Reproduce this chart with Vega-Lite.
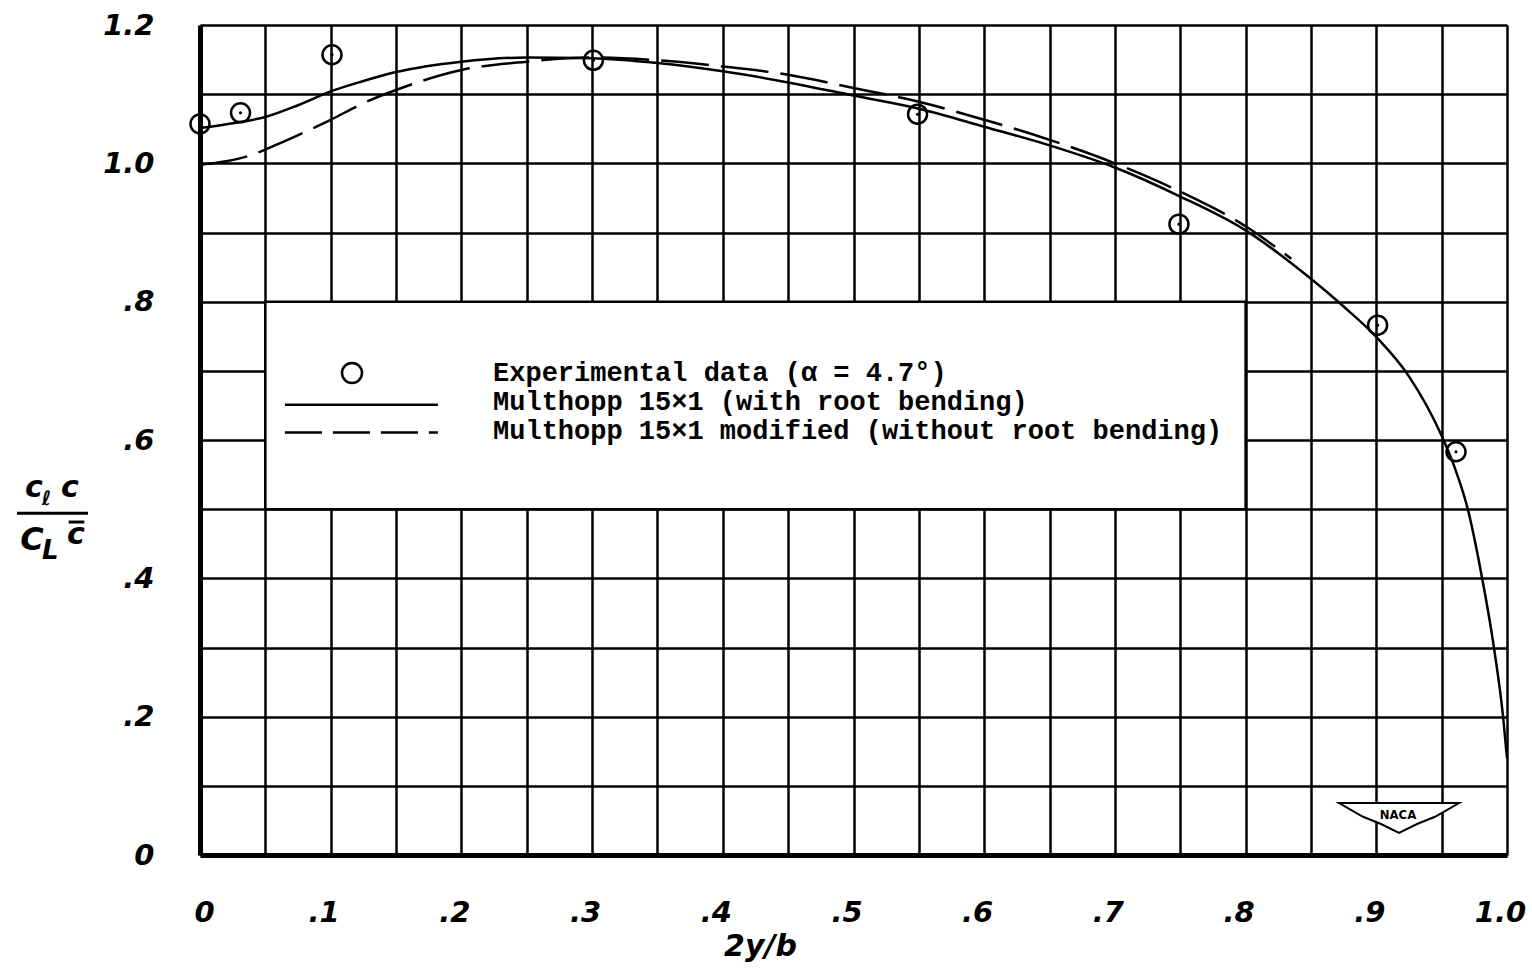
{
  "$schema": "https://vega.github.io/schema/vega-lite/v6.json",
  "width": 1307,
  "height": 830,
  "autosize": {"type": "none"},
  "padding": {"left": 200, "top": 25, "right": 25, "bottom": 117},
  "background": "white",
  "config": {
    "view": {"stroke": null},
    "axis": {
      "ticks": false,
      "grid": true,
      "gridColor": "black",
      "gridWidth": 2.5,
      "gridOpacity": 1,
      "domainColor": "black",
      "domainWidth": 5,
      "labelFont": "DejaVu Sans",
      "labelFontStyle": "italic",
      "labelFontWeight": "bold",
      "labelFontSize": 29,
      "labelColor": "black",
      "labelOverlap": false,
      "labelFlush": false,
      "titleFont": "DejaVu Sans",
      "titleFontStyle": "italic",
      "titleFontWeight": "bold",
      "titleFontSize": 30,
      "titleColor": "black"
    }
  },
  "datasets": {
    "solid": [
      {"x": 0, "y": 1.051}, {"x": 0.025, "y": 1.058}, {"x": 0.05, "y": 1.067}, {"x": 0.075, "y": 1.084},
      {"x": 0.1, "y": 1.104}, {"x": 0.125, "y": 1.119}, {"x": 0.15, "y": 1.132}, {"x": 0.2, "y": 1.147},
      {"x": 0.25, "y": 1.153}, {"x": 0.3, "y": 1.152}, {"x": 0.35, "y": 1.145}, {"x": 0.4, "y": 1.133},
      {"x": 0.45, "y": 1.117}, {"x": 0.5, "y": 1.098}, {"x": 0.55, "y": 1.079}, {"x": 0.6, "y": 1.053},
      {"x": 0.65, "y": 1.026}, {"x": 0.7, "y": 0.994}, {"x": 0.75, "y": 0.952}, {"x": 0.8, "y": 0.903},
      {"x": 0.85, "y": 0.833}, {"x": 0.875, "y": 0.793}, {"x": 0.9, "y": 0.749}, {"x": 0.925, "y": 0.692},
      {"x": 0.95, "y": 0.606}, {"x": 0.96, "y": 0.56}, {"x": 0.97, "y": 0.5}, {"x": 0.98, "y": 0.41},
      {"x": 0.99, "y": 0.3}, {"x": 0.997, "y": 0.2}, {"x": 1.0, "y": 0.14}
    ],
    "dashed": [
      {"x": 0, "y": 0.998}, {"x": 0.02, "y": 1.003}, {"x": 0.036, "y": 1.01}, {"x": 0.06, "y": 1.028},
      {"x": 0.08, "y": 1.045}, {"x": 0.1, "y": 1.063}, {"x": 0.125, "y": 1.087}, {"x": 0.15, "y": 1.106},
      {"x": 0.2, "y": 1.135}, {"x": 0.25, "y": 1.147}, {"x": 0.3, "y": 1.153}, {"x": 0.35, "y": 1.149},
      {"x": 0.4, "y": 1.14}, {"x": 0.45, "y": 1.128}, {"x": 0.5, "y": 1.109}, {"x": 0.55, "y": 1.089},
      {"x": 0.6, "y": 1.063}, {"x": 0.65, "y": 1.034}, {"x": 0.7, "y": 1.0}, {"x": 0.75, "y": 0.959},
      {"x": 0.8, "y": 0.909}, {"x": 0.835, "y": 0.862}
    ],
    "experimental": [
      {"x": 0.0, "y": 1.057}, {"x": 0.031, "y": 1.073}, {"x": 0.101, "y": 1.157}, {"x": 0.301, "y": 1.149},
      {"x": 0.549, "y": 1.071}, {"x": 0.749, "y": 0.912}, {"x": 0.901, "y": 0.766}, {"x": 0.961, "y": 0.583}
    ]
  },
  "layer": [
    {
      "data": {"values": [{}]},
      "mark": {"type": "rect", "fill": "white", "stroke": "black", "strokeWidth": 2.5},
      "encoding": {
        "x": {"datum": 0.05, "type": "quantitative", "scale": {"domain": [0, 1], "nice": false, "zero": false},
          "axis": {
            "values": [0, 0.05, 0.1, 0.15, 0.2, 0.25, 0.3, 0.35, 0.4, 0.45, 0.5, 0.55, 0.6, 0.65, 0.7, 0.75, 0.8, 0.85, 0.9, 0.95, 1.0],
            "labelExpr": "datum.value == 0 ? '0' : datum.value == 1 ? '1.0' : (round(datum.value*100) % 10 == 0 ? '.' + round(datum.value*10) : '')",
            "labelOffset": {"condition": {"test": "datum.value == 0", "value": 4}, "value": -7},
            "labelPadding": 43,
            "title": "2y/b",
            "titleX": 560,
            "titleY": 91,
            "titleAlign": "center",
            "titleBaseline": "middle"
          }},
        "x2": {"datum": 0.8},
        "y": {"datum": 0.5, "type": "quantitative", "scale": {"domain": [0, 1.2], "nice": false, "zero": false},
          "axis": {
            "values": [0, 0.1, 0.2, 0.3, 0.4, 0.5, 0.6, 0.7, 0.8, 0.9, 1.0, 1.1, 1.2],
            "labelExpr": "round(datum.value*10) % 2 != 0 ? '' : datum.value == 0 ? '0' : datum.value >= 1 ? format(datum.value, '.1f') : '.' + round(datum.value*10)",
            "labelPadding": 46,
            "title": null
          }},
        "y2": {"datum": 0.8}
      }
    },
    {
      "data": {"name": "solid"},
      "mark": {"type": "line", "color": "black", "strokeWidth": 2.5, "interpolate": "monotone"},
      "encoding": {"x": {"field": "x", "type": "quantitative"}, "y": {"field": "y", "type": "quantitative"}}
    },
    {
      "data": {"name": "dashed"},
      "mark": {"type": "line", "color": "black", "strokeWidth": 2.5, "strokeDash": [48, 12], "interpolate": "monotone"},
      "encoding": {"x": {"field": "x", "type": "quantitative"}, "y": {"field": "y", "type": "quantitative"}}
    },
    {
      "data": {"name": "experimental"},
      "mark": {"type": "point", "shape": "circle", "filled": false, "color": "black", "strokeWidth": 2.5, "size": 361, "opacity": 1},
      "encoding": {"x": {"field": "x", "type": "quantitative"}, "y": {"field": "y", "type": "quantitative"}}
    },
    {
      "data": {"name": "experimental"},
      "mark": {"type": "point", "shape": "circle", "filled": true, "color": "black", "size": 10, "opacity": 1},
      "encoding": {"x": {"field": "x", "type": "quantitative"}, "y": {"field": "y", "type": "quantitative"}}
    },
    {
      "data": {"values": [{}]},
      "mark": {"type": "point", "shape": "circle", "filled": false, "color": "black", "strokeWidth": 2.5, "size": 400, "opacity": 1},
      "encoding": {"x": {"datum": 0.1163}, "y": {"datum": 0.6968}}
    },
    {
      "data": {"values": [{}]},
      "mark": {"type": "rule", "color": "black", "strokeWidth": 2.5},
      "encoding": {"x": {"datum": 0.065}, "x2": {"datum": 0.182}, "y": {"datum": 0.651}}
    },
    {
      "data": {"values": [{}]},
      "mark": {"type": "rule", "color": "black", "strokeWidth": 2.5, "strokeDash": [37, 11]},
      "encoding": {"x": {"datum": 0.065}, "x2": {"datum": 0.182}, "y": {"datum": 0.611}}
    },
    {
      "data": {"values": [{}]},
      "mark": {"type": "text", "text": "Experimental data (α = 4.7°)", "font": "Liberation Mono", "fontSize": 27, "fontWeight": "bold", "align": "left", "baseline": "middle", "color": "black"},
      "encoding": {"x": {"datum": 0.2242}, "y": {"datum": 0.6975}}
    },
    {
      "data": {"values": [{}]},
      "mark": {"type": "text", "text": "Multhopp 15×1 (with root bending)", "font": "Liberation Mono", "fontSize": 27, "fontWeight": "bold", "align": "left", "baseline": "middle", "color": "black"},
      "encoding": {"x": {"datum": 0.2242}, "y": {"datum": 0.6555}}
    },
    {
      "data": {"values": [{}]},
      "mark": {"type": "text", "text": "Multhopp 15×1 modified (without root bending)", "font": "Liberation Mono", "fontSize": 27, "fontWeight": "bold", "align": "left", "baseline": "middle", "color": "black"},
      "encoding": {"x": {"datum": 0.2242}, "y": {"datum": 0.613}}
    },
    {
      "data": {"values": [{}]},
      "mark": {"type": "text", "text": "c", "font": "DejaVu Sans", "fontStyle": "italic", "fontWeight": "bold", "fontSize": 30, "align": "center", "baseline": "middle", "color": "black"},
      "encoding": {"x": {"datum": -0.127}, "y": {"datum": 0.531}}
    },
    {
      "data": {"values": [{}]},
      "mark": {"type": "text", "text": "ℓ", "font": "DejaVu Sans", "fontStyle": "italic", "fontWeight": "bold", "fontSize": 20, "align": "center", "baseline": "middle", "color": "black"},
      "encoding": {"x": {"datum": -0.1175}, "y": {"datum": 0.514}}
    },
    {
      "data": {"values": [{}]},
      "mark": {"type": "text", "text": "c", "font": "DejaVu Sans", "fontStyle": "italic", "fontWeight": "bold", "fontSize": 30, "align": "center", "baseline": "middle", "color": "black"},
      "encoding": {"x": {"datum": -0.0995}, "y": {"datum": 0.531}}
    },
    {
      "data": {"values": [{}]},
      "mark": {"type": "rule", "color": "black", "strokeWidth": 3},
      "encoding": {"x": {"datum": -0.140}, "x2": {"datum": -0.0857}, "y": {"datum": 0.494}}
    },
    {
      "data": {"values": [{}]},
      "mark": {"type": "text", "text": "C", "font": "DejaVu Sans", "fontStyle": "italic", "fontWeight": "bold", "fontSize": 32, "align": "center", "baseline": "middle", "color": "black"},
      "encoding": {"x": {"datum": -0.1285}, "y": {"datum": 0.455}}
    },
    {
      "data": {"values": [{}]},
      "mark": {"type": "text", "text": "L", "font": "DejaVu Sans", "fontStyle": "italic", "fontWeight": "bold", "fontSize": 26, "align": "center", "baseline": "middle", "color": "black"},
      "encoding": {"x": {"datum": -0.1145}, "y": {"datum": 0.44}}
    },
    {
      "data": {"values": [{}]},
      "mark": {"type": "text", "text": "c", "font": "DejaVu Sans", "fontStyle": "italic", "fontWeight": "bold", "fontSize": 30, "align": "center", "baseline": "middle", "color": "black"},
      "encoding": {"x": {"datum": -0.0949}, "y": {"datum": 0.4626}}
    },
    {
      "data": {"values": [{}]},
      "mark": {"type": "rule", "color": "black", "strokeWidth": 3},
      "encoding": {"x": {"datum": -0.1005}, "x2": {"datum": -0.0885}, "y": {"datum": 0.4814}}
    },
    {
      "data": {"values": [{}]},
      "mark": {"type": "point", "shape": "M -1 -0.25 L 1 -0.25 L 0.6 -0.02 L 0.3 0.1 L 0 0.25 L -0.3 0.1 L -0.6 -0.02 Z", "filled": false, "color": "black", "fill": "white", "strokeWidth": 2, "size": 14400, "opacity": 1},
      "encoding": {"x": {"datum": 0.9174}, "y": {"datum": 0.0535}}
    },
    {
      "data": {"values": [{}]},
      "mark": {"type": "text", "text": "NACA", "font": "DejaVu Sans Condensed", "fontWeight": "bold", "fontSize": 13, "align": "center", "baseline": "middle", "color": "black"},
      "encoding": {"x": {"datum": 0.9166}, "y": {"datum": 0.0578}}
    }
  ]
}
